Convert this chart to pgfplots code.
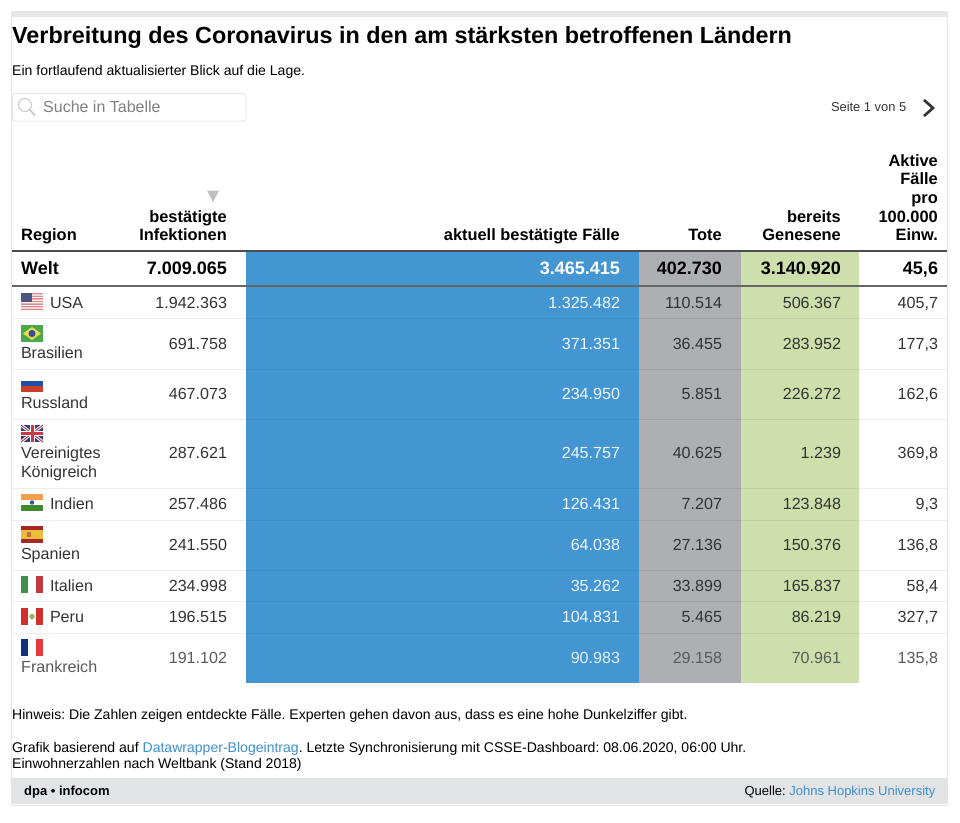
\documentclass[border=0pt]{standalone}
\usepackage{pgfplots}
\usepackage{pgfplotstable}
\usepackage{fontspec}
\setmainfont{Liberation Sans}
\pgfplotsset{compat=1.18}
\frenchspacing
\definecolor{cblue}{HTML}{4496D3}
\definecolor{cgrey}{HTML}{AEAFB3}
\definecolor{cgreen}{HTML}{CDE0AB}
\definecolor{ctxt}{HTML}{333333}
\definecolor{cfade}{HTML}{5A5A5A}
\definecolor{clink}{HTML}{3D8ECF}
\definecolor{cbar}{HTML}{E2E3E5}
\definecolor{cline}{HTML}{E6E6E6}
\definecolor{fUSr}{HTML}{D98A8A}
\definecolor{fUSb}{HTML}{4A5580}
\definecolor{fBRg}{HTML}{4AA84A}
\definecolor{fBRy}{HTML}{E8DC50}
\definecolor{fBRb}{HTML}{3A4F9A}
\definecolor{fRUb}{HTML}{1F4FA5}
\definecolor{fRUr}{HTML}{C8402C}
\definecolor{fUKb}{HTML}{2F3F80}
\definecolor{fUKr}{HTML}{C83A4A}
\definecolor{fINo}{HTML}{F49D4F}
\definecolor{fINg}{HTML}{3F8A2F}
\definecolor{fINb}{HTML}{3A4FA0}
\definecolor{fESr}{HTML}{A82828}
\definecolor{fESy}{HTML}{EABD3B}
\definecolor{fESm}{HTML}{C0703A}
\definecolor{fITg}{HTML}{3F8F50}
\definecolor{fITr}{HTML}{C0393F}
\definecolor{fPEr}{HTML}{D22F2F}
\definecolor{fPEm}{HTML}{A8B060}
\definecolor{fFRb}{HTML}{14307C}
\definecolor{fFRr}{HTML}{E63B3E}
\newcommand\fN{\fontsize{16.1}{19}\selectfont}
\newcommand\fB{\fontsize{18}{21}\bfseries\selectfont}
\newcommand\fH{\fontsize{16.4}{18.5}\bfseries\selectfont}
\newcommand\fS{\fontsize{14.05}{16}\selectfont}
\newcommand\fF{\fontsize{12.9}{16}\selectfont}
\pgfplotstableread[col sep=semicolon]{
y;conf;akt;tote;gen;act
308.3;1.942.363;1.325.482;110.514;506.367;405,7
349.2;691.758;371.351;36.455;283.952;177,3
399.5;467.073;234.950;5.851;226.272;162,6
458.9;287.621;245.757;40.625;1.239;369,8
509.4;257.486;126.431;7.207;123.848;9,3
550.4;241.550;64.038;27.136;150.376;136,8
591.4;234.998;35.262;33.899;165.837;58,4
622.5;196.515;104.831;5.465;86.219;327,7
}\rows
\pgfplotstableread[col sep=semicolon]{
y;conf;akt;tote;gen;act
663.5;191.102;90.983;29.158;70.961;135,8
}\lastrow
\pgfplotstableread[col sep=semicolon]{
y;conf;akt;tote;gen;act
274;7.009.065;3.465.415;402.730;3.140.920;45,6
}\world
\pgfplotstableread[col sep=semicolon]{
x;y;name
50;308.3;USA
21;358.3;Brasilien
21;408.4;Russland
21;458.5;Vereinigtes
21;477.5;Königreich
50;509.4;Indien
21;559.4;Spanien
50;591.4;Italien
50;622.5;Peru
}\names
\pgfplotsset{
  cell/.style 2 args={draw=none,mark=none,forget plot,point meta=explicit symbolic,
    nodes near coords,
    every node near coord/.style={anchor=base east,inner sep=0pt,outer sep=0pt,font=#1,text=#2}},
  namecell/.style 2 args={cell={#1}{#2},
    every node near coord/.append style={anchor=base west}},
}
\newcommand\flag[3]{\begin{scope}[shift={(axis cs:#1,#2)},x=1pt,y=-1pt]#3\end{scope}}
\begin{document}
\begin{tikzpicture}
\begin{axis}[
  scale only axis,width=960pt,height=822pt,
  xmin=0,xmax=960,ymin=0,ymax=822,y dir=reverse,
  hide axis,clip=false,
]
% frame
\addplot[fill=cline,draw=none,forget plot] coordinates {(11,11)(948,11)(948,16.5)(11,16.5)} --cycle;
\addplot[fill=cbar,draw=none,forget plot] coordinates {(11,778)(948,778)(948,804)(11,804)} --cycle;
\addplot[draw=cline,line width=1pt,forget plot] coordinates {(11.5,11)(11.5,806)};
\addplot[draw=cline,line width=1pt,forget plot] coordinates {(947.5,11)(947.5,806)};
\addplot[draw=cline,line width=1.5pt,forget plot] coordinates {(11,805.5)(948,805.5)};
% columns
\addplot[fill=cblue,draw=none,forget plot] coordinates {(245.5,252)(638.5,252)(638.5,683)(245.5,683)} --cycle;
\addplot[fill=cgrey,draw=none,forget plot] coordinates {(638.5,252)(741,252)(741,683)(638.5,683)} --cycle;
\addplot[fill=cgreen,draw=none,forget plot] coordinates {(741,252)(859.3,252)(859.3,683)(741,683)} --cycle;
% row separators
\addplot[draw=black,opacity=.07,line width=1pt,unbounded coords=jump,forget plot] coordinates {
 (12,318.5)(947,318.5)(12,nan)(12,369)(947,369)(12,nan)(12,419)(947,419)(12,nan)
 (12,488.5)(947,488.5)(12,nan)(12,520)(947,520)(12,nan)(12,570)(947,570)(12,nan)
 (12,601.5)(947,601.5)(12,nan)(12,633.5)(947,633.5)};
\addplot[draw=black!70,line width=2pt,forget plot] coordinates {(12,251)(947,251)};
\addplot[draw=black!60,line width=1.5pt,forget plot] coordinates {(12,286)(947,286)};
% data rows
\addplot[cell={\fN}{ctxt}] table[x expr=227,y=y,meta=conf]{\rows};
\addplot[cell={\fN}{white!92!cblue}] table[x expr=620,y=y,meta=akt]{\rows};
\addplot[cell={\fN}{ctxt}] table[x expr=722,y=y,meta=tote]{\rows};
\addplot[cell={\fN}{ctxt}] table[x expr=841,y=y,meta=gen]{\rows};
\addplot[cell={\fN}{ctxt}] table[x expr=938,y=y,meta=act]{\rows};
\addplot[cell={\fN}{cfade}] table[x expr=227,y=y,meta=conf]{\lastrow};
\addplot[cell={\fN}{white!85!cblue}] table[x expr=620,y=y,meta=akt]{\lastrow};
\addplot[cell={\fN}{cfade}] table[x expr=722,y=y,meta=tote]{\lastrow};
\addplot[cell={\fN}{cfade}] table[x expr=841,y=y,meta=gen]{\lastrow};
\addplot[cell={\fN}{cfade}] table[x expr=938,y=y,meta=act]{\lastrow};
\addplot[cell={\fB}{black}] table[x expr=227,y=y,meta=conf]{\world};
\addplot[cell={\fB}{white}] table[x expr=620,y=y,meta=akt]{\world};
\addplot[cell={\fB}{black}] table[x expr=722,y=y,meta=tote]{\world};
\addplot[cell={\fB}{black}] table[x expr=841,y=y,meta=gen]{\world};
\addplot[cell={\fB}{black}] table[x expr=938,y=y,meta=act]{\world};
\addplot[namecell={\fN}{ctxt}] table[x=x,y=y,meta=name]{\names};
\node[anchor=base west,inner sep=0,font=\fN,text=cfade] at (axis cs:21,672.5) {Frankreich};
\node[anchor=base west,inner sep=0,font=\fB] at (axis cs:21,274) {Welt};
% title block
\node[anchor=base west,inner sep=0,font=\fontsize{23.35}{28}\bfseries\selectfont] at (axis cs:12,43) {Verbreitung des Coronavirus in den am stärksten betroffenen Ländern};
\node[anchor=base west,inner sep=0,font=\fS] at (axis cs:12,75) {Ein fortlaufend aktualisierter Blick auf die Lage.};
% search
\draw[cline,line width=1pt,rounded corners=3pt,fill=white] (axis cs:12.5,93.5) rectangle (axis cs:246,121);
\draw[black!22,line width=1pt] (axis cs:25,105) circle[radius=6.5pt];
\draw[black!22,line width=1.6pt] (axis cs:29.8,110) -- (axis cs:35,115.5);
\node[anchor=base west,inner sep=0,font=\fontsize{16}{19}\selectfont,text=black!50] at (axis cs:43,112) {Suche in Tabelle};
\node[anchor=base east,inner sep=0,font=\fF,text=ctxt] at (axis cs:906.5,111) {Seite 1 von 5};
\draw[black!80,line width=2.6pt] (axis cs:924,100) -- (axis cs:933,108) -- (axis cs:924,116);
% header
\fill[black!25] (axis cs:207,190.5) -- (axis cs:219,190.5) -- (axis cs:213,202) -- cycle;
\node[anchor=base west,inner sep=0,font=\fH] at (axis cs:21,240.5) {Region};
\node[anchor=base east,inner sep=0,font=\fH] at (axis cs:227,222) {bestätigte};
\node[anchor=base east,inner sep=0,font=\fH] at (axis cs:227,240.5) {Infektionen};
\node[anchor=base east,inner sep=0,font=\fH] at (axis cs:620,240.5) {aktuell bestätigte Fälle};
\node[anchor=base east,inner sep=0,font=\fH] at (axis cs:722,240.5) {Tote};
\node[anchor=base east,inner sep=0,font=\fH] at (axis cs:841,222) {bereits};
\node[anchor=base east,inner sep=0,font=\fH] at (axis cs:841,240.5) {Genesene};
\node[anchor=base east,inner sep=0,font=\fH] at (axis cs:938,166) {Aktive};
\node[anchor=base east,inner sep=0,font=\fH] at (axis cs:938,184.5) {Fälle};
\node[anchor=base east,inner sep=0,font=\fH] at (axis cs:938,203.3) {pro};
\node[anchor=base east,inner sep=0,font=\fH] at (axis cs:938,222) {100.000};
\node[anchor=base east,inner sep=0,font=\fH] at (axis cs:938,240.5) {Einw.};
% footer
\node[anchor=base west,inner sep=0,font=\fS] at (axis cs:12,719) {Hinweis: Die Zahlen zeigen entdeckte Fälle. Experten gehen davon aus, dass es eine hohe Dunkelziffer gibt.};
\node[anchor=base west,inner sep=0,font=\fS] at (axis cs:12,752) {Grafik basierend auf \textcolor{clink}{Datawrapper-Blogeintrag}. Letzte Synchronisierung mit CSSE-Dashboard: 08.06.2020, 06:00 Uhr.};
\node[anchor=base west,inner sep=0,font=\fS] at (axis cs:12,768) {Einwohnerzahlen nach Weltbank (Stand 2018)};
\node[anchor=base west,inner sep=0,font=\fontsize{13}{16}\bfseries\selectfont] at (axis cs:24,795) {dpa • infocom};
\node[anchor=base east,inner sep=0,font=\fontsize{13}{16}\selectfont] at (axis cs:935.5,795) {Quelle: \textcolor{clink}{Johns Hopkins University}};
% flags (22 x 17)
\flag{21}{293}{\fill[white] (0,0) rectangle (22,17);
  \fill[fUSr] (0,0) rectangle (22,1.31) (0,2.62) rectangle (22,3.93) (0,5.23) rectangle (22,6.54) (0,7.85) rectangle (22,9.15) (0,10.46) rectangle (22,11.77) (0,13.08) rectangle (22,14.38) (0,15.69) rectangle (22,17);
  \fill[fUSb] (0,0) rectangle (11,9);}
\flag{21}{325}{\fill[fBRg] (0,0) rectangle (22,17);
  \fill[fBRy] (11,2) -- (20,8.5) -- (11,15) -- (2,8.5) -- cycle;
  \fill[fBRb] (11,8.5) circle[radius=3.6pt];}
\flag{21}{375}{\fill[white] (0,0) rectangle (22,5.7);
  \fill[fRUb] (0,5.7) rectangle (22,11.3);
  \fill[fRUr] (0,11.3) rectangle (22,17);}
\flag{21}{425}{\fill[fUKb] (0,0) rectangle (22,17);
  \draw[white,line width=3pt] (0,0) -- (22,17) (22,0) -- (0,17);
  \draw[fUKr,line width=1pt] (0,0) -- (22,17) (22,0) -- (0,17);
  \draw[white,line width=5pt] (11,0) -- (11,17) (0,8.5) -- (22,8.5);
  \draw[fUKr,line width=3pt] (11,0) -- (11,17) (0,8.5) -- (22,8.5);}
\flag{21}{494}{\fill[fINo] (0,0) rectangle (22,5.7);
  \fill[white] (0,5.7) rectangle (22,11.3);
  \fill[fINg] (0,11.3) rectangle (22,17);
  \fill[fINb] (11,8.5) circle[radius=2.2pt];}
\flag{21}{526}{\fill[fESr] (0,0) rectangle (22,17);
  \fill[fESy] (0,4.2) rectangle (22,12.8);
  \fill[fESm] (5.5,6.2) rectangle (9.5,11);}
\flag{21}{576}{\fill[fITg] (0,0) rectangle (7.3,17);
  \fill[white] (7.3,0) rectangle (14.7,17);
  \fill[fITr] (14.7,0) rectangle (22,17);}
\flag{21}{608}{\fill[fPEr] (0,0) rectangle (7.3,17);
  \fill[white] (7.3,0) rectangle (14.7,17);
  \fill[fPEr] (14.7,0) rectangle (22,17);
  \fill[fPEm] (11,8.5) circle[radius=2.8pt];}
\flag{21}{639}{\fill[fFRb] (0,0) rectangle (7.3,17);
  \fill[white] (7.3,0) rectangle (14.7,17);
  \fill[fFRr] (14.7,0) rectangle (22,17);}
\path (rel axis cs:0,0) (rel axis cs:1,1);
\end{axis}
\end{tikzpicture}
\end{document}
